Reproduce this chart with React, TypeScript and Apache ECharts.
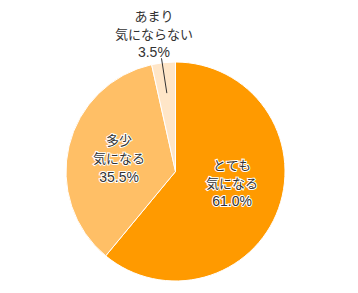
import React, { useEffect, useRef } from "react";
import * as echarts from "echarts";

const categories = ["とても\n気になる", "多少\n気になる", "あまり\n気にならない"];
const values = [61.0, 35.5, 3.5];
const colors = ["#FF9A00", "#FFBF66", "#FFE6C8"];

const CX = 175.5;
const CY = 171.5;
const R = 109.5;

export default function App() {
  const ref = useRef<HTMLDivElement>(null);
  useEffect(() => {
    if (!ref.current) return;
    const chart = echarts.init(ref.current, null, { renderer: "svg" });
    const total = values.reduce((a, b) => a + b, 0);
    const midAngle = (i: number) => {
      let before = 0;
      for (let k = 0; k < i; k++) before += values[k];
      return ((before + values[i] / 2) / total) * Math.PI * 2;
    };
    const dir = (i: number) => {
      const a = midAngle(i);
      return [Math.sin(a), -Math.cos(a)];
    };
    const [ux, uy] = dir(2);
    const font = '"Liberation Sans", "Noto Sans CJK JP", sans-serif';
    chart.setOption({
      animation: false,
      graphic: [
        {
          type: "line",
          z: 100,
          shape: {
            x1: CX + ux * R * 0.72,
            y1: CY + uy * R * 0.72,
            x2: CX + ux * R * 1.04 - 1.5,
            y2: CY + uy * R * 1.04,
          },
          style: { stroke: "#333", lineWidth: 1 },
        },
      ],
      series: [
        {
          type: "pie",
          center: [CX, CY],
          radius: [0, R],
          startAngle: 90,
          clockwise: true,
          avoidLabelOverlap: false,
          itemStyle: { borderColor: "#fff", borderWidth: 1 },
          label: {
            show: true,
            position: "outside",
            color: "#333",
            fontSize: 13,
            lineHeight: 18,
            align: "center",
            fontFamily: font,
            textBorderColor: "#fff",
            textBorderWidth: 2,
            formatter: (p: any) =>
              p.name
                .split("\n")
                .map((s: string) => `{n|${s}}`)
                .join("\n") + `\n{v|${p.value.toFixed(1)}%}`,
            rich: {
              n: { fontSize: 13, lineHeight: 18, fontFamily: font },
              v: { fontSize: 14, lineHeight: 18, fontFamily: font },
            },
          },
          labelLine: { show: false },
          data: values.map((v, i) => {
            const d: any = { name: categories[i], value: v, itemStyle: { color: colors[i] } };
            if (i === 2) d.label = { textBorderWidth: 0 };
            return d;
          }),
          labelLayout: (params: any) => {
            const i = params.dataIndex;
            const [dx, dy] = dir(i);
            let x: number, y: number;
            if (i === 2) {
              x = CX + ux * R * 1.3 - 6;
              y = CY + uy * R * 1.26;
            } else if (i === 0) {
              x = CX + dx * R * 0.5 + 5;
              y = CY + dy * R * 0.5 - 7;
            } else {
              x = CX + dx * R * 0.53;
              y = CY + dy * R * 0.53 + 1;
            }
            return { x, y, align: "center", verticalAlign: "middle" };
          },
        },
      ],
    });
    return () => chart.dispose();
  }, []);
  return (
    <div
      ref={ref}
      style={{ position: "fixed", left: 0, top: 0, width: 358, height: 293, background: "#fff" }}
    />
  );
}
